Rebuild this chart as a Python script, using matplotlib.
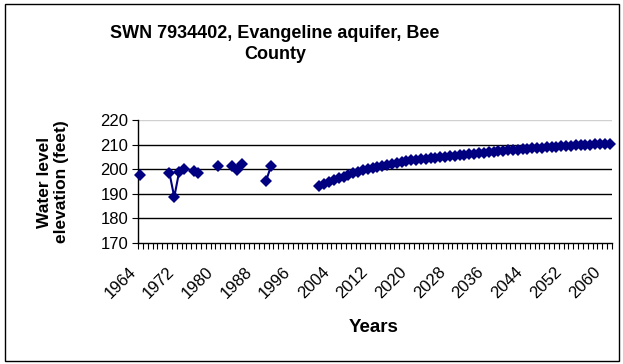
import numpy as np
import pandas as pd
import matplotlib.pyplot as plt
import matplotlib.transforms as mtransforms
from matplotlib.patches import Rectangle

plt.rcParams['font.family'] = ['Liberation Sans', 'DejaVu Sans']

# measured water levels
hist_years = [1964, 1970, 1971, 1972, 1973, 1975, 1976, 1980, 1983, 1984, 1985, 1990, 1991]
hist_levels = [197.7, 198.4, 188.7, 198.9, 200.0, 199.3, 198.4, 201.1, 201.3, 199.7, 202.3, 195.4, 201.3]

# simulated water levels 2001-2061
proj_years = list(range(2001, 2062))
proj_levels = [193.2, 194.0, 194.8, 195.6, 196.3, 197.0, 197.7, 198.4, 199.0, 199.5,
               200.0, 200.5, 200.9, 201.3, 201.7, 202.1, 202.5, 202.9, 203.2, 203.6,
               203.8, 204.0, 204.3, 204.5, 204.7, 204.9, 205.1, 205.3, 205.5, 205.7,
               205.9, 206.1, 206.3, 206.5, 206.7, 206.9, 207.1, 207.3, 207.5, 207.7,
               207.9, 208.0, 208.2, 208.3, 208.5, 208.6, 208.8, 208.9, 209.1, 209.2,
               209.3, 209.5, 209.6, 209.7, 209.8, 209.9, 210.0, 210.1, 210.2, 210.3,
               210.4]

first_year, last_year = 1964, 2061
label_years = list(range(1964, 2061, 8))
y_ticks = [170, 180, 190, 200, 210, 220]

all_years = np.arange(first_year, last_year + 1)
levels = pd.Series(dict(zip(hist_years, hist_levels)))
levels = pd.concat([levels, pd.Series(dict(zip(proj_years, proj_levels)))])
levels = levels.reindex(all_years)  # NaN for missing years -> broken line

W, H = 623, 364
fig = plt.figure(figsize=(W / 100, H / 100), dpi=100)
fig.patches.append(Rectangle((5 / W, 3 / H), 614 / W, 357 / H, transform=fig.transFigure,
                             fill=False, edgecolor='black', linewidth=1))

ax = fig.add_axes([138 / W, 1 - 243 / H, (612 - 138) / W, (243 - 120) / H])
navy = '#000080'
ax.plot(all_years, levels.values, color=navy, linewidth=1.5,
        marker='D', markersize=6, markeredgewidth=0, zorder=3, clip_on=False)

ax.set_xlim(first_year - 0.5, last_year + 0.5)
ax.set_ylim(170, 220)
ax.set_yticks(y_ticks)
for v in y_ticks[1:-1]:
    ax.axhline(v, color='black', linewidth=1, zorder=1)
ax.axhline(220, color='#d0d0d0', linewidth=1, zorder=1)

ax.set_xticks(label_years)
ax.set_xticks(np.arange(first_year - 0.5, last_year + 1), minor=True)
ax.tick_params(axis='x', which='major', length=0, pad=19, labelsize=12)
ax.tick_params(axis='x', which='minor', length=4, width=0.8, direction='out')
ax.tick_params(axis='y', length=4, width=0.8, direction='out', labelsize=12, pad=3)
shift = mtransforms.ScaledTranslation(-7 / 100, 0, fig.dpi_scale_trans)
for lbl in ax.get_xticklabels():
    lbl.set_rotation(45)
    lbl.set_ha('right')
    lbl.set_va('center')
    lbl.set_rotation_mode('anchor')
    lbl.set_transform(lbl.get_transform() + shift)

for s in ['top', 'right']:
    ax.spines[s].set_visible(False)
for s in ['left', 'bottom']:
    ax.spines[s].set_linewidth(1)

fig.text(275 / W, 1 - 44 / H, 'SWN 7934402, Evangeline aquifer, Bee\nCounty',
         ha='center', va='center', fontsize=13, fontweight='bold', linespacing=1.3)
fig.text(53 / W, 1 - 182 / H, 'Water level\nelevation (feet)', rotation=90,
         ha='center', va='center', fontsize=12.5, fontweight='bold', linespacing=1.2)
fig.text(374 / W, 1 - 328 / H, 'Years', ha='center', va='center',
         fontsize=13.5, fontweight='bold')

fig.savefig('out.png', dpi=100)
